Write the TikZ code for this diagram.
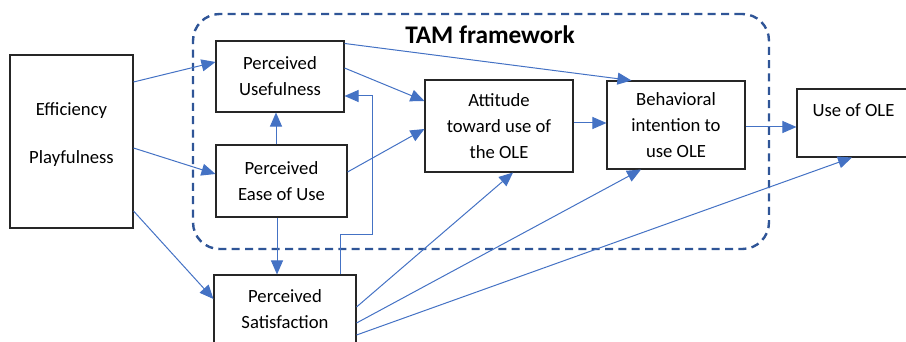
\documentclass[tikz,border=0pt]{standalone}
\usepackage{fontspec}
\setmainfont{Carlito}
\usetikzlibrary{arrows.meta,calc,fit}
\definecolor{arrowblue}{HTML}{4472C4}
\definecolor{frameblue}{HTML}{2F5597}

\begin{document}
\begin{tikzpicture}[x=0.75pt,y=-0.75pt,
    box/.style={draw=black!85,line width=0.8pt,inner sep=0pt,align=center,font=\fontsize{14}{19.5}\selectfont},
    boxsize/.style 2 args={minimum width=#1*0.75pt,minimum height=#2*0.75pt},
    boxtext/.style={align=center,font=\fontsize{14}{19.5}\selectfont},
    link/.style={draw=arrowblue,line width=0.75pt,-{Triangle[length=10.5pt,width=9pt]}},
    frame/.style={draw=frameblue,line width=1.8pt,dash pattern=on 6pt off 4pt,rounded corners=20pt,inner sep=0pt}]
\useasboundingbox (0,0) rectangle (906,342);

\node[frame,fit={(193,14) (769,249)}] (tam) {};
\node[font=\fontsize{19}{23}\selectfont\bfseries] (title) at (490,35) {TAM framework};

\node[box,boxsize={123}{173}] (eff) at (71.5,141.5) {};
\node[boxtext] (efftext) at (71.5,134.5) {Efficiency\\[17pt]Playfulness};
\node[box,boxsize={128}{71}] (pu) at (280,76.5) {Perceived\\Usefulness};
\node[box,boxsize={131}{72}] (peou) at (281.5,181) {Perceived\\Ease of Use};
\node[box,boxsize={142}{69}] (ps) at (285,309.5) {Perceived\\Satisfaction};
\node[box,boxsize={148}{92}] (att) at (499,126) {Attitude\\toward use of\\the OLE};
\node[box,boxsize={138}{88}] (bi) at (676,125) {Behavioral\\intention to\\use OLE};
\node[box,boxsize={113}{68}] (use) at (853.5,123) {Use of OLE\\\mbox{}};

\draw[link] ($(eff.east)+(0,-59.5)$) -- ($(pu.west)+(0,-14.5)$);
\draw[link] ($(eff.east)+(0,6.5)$) -- ($(peou.west)+(0,-7)$);
\draw[link] ($(eff.east)+(0,69.5)$) -- ($(ps.west)+(0,-10.5)$);
\draw[link] ($(pu.north east)+(0,3)$) -- ($(bi.north west)+(25,0)$);
\draw[link] ($(pu.east)+(0,-8.5)$) -- ($(att.west)+(0,-25)$);
\draw[link] ($(peou.north)+(-5.5,0)$) -- ($(pu.south)+(-4,0)$);
\draw[link] ($(peou.east)+(0,-9)$) -- ($(att.west)+(0,3)$);
\draw[link] ($(peou.south)+(-4.5,0)$) -- ($(ps.north)+(-8,0)$);
\draw[link] ($(ps.north)+(55,0)$) -- ++(0,-40) -- ++(32,0) |- ($(pu.east)+(0,19.5)$);
\draw[link] ($(ps.east)+(0,-2.5)$) -- ($(att.south)+(14,0)$);
\draw[link] ($(ps.east)+(0,13.5)$) -- ($(bi.south)+(-35,0)$);
\draw[link] ($(ps.east)+(0,25.5)$) -- ($(use.south)+(-1.5,0)$);
\draw[link] ($(att.east)+(0,-3)$) -- ($(bi.west)+(0,-2)$);
\draw[link] ($(bi.east)+(0,2)$) -- ($(use.west)+(0,4)$);
\end{tikzpicture}
\end{document}
